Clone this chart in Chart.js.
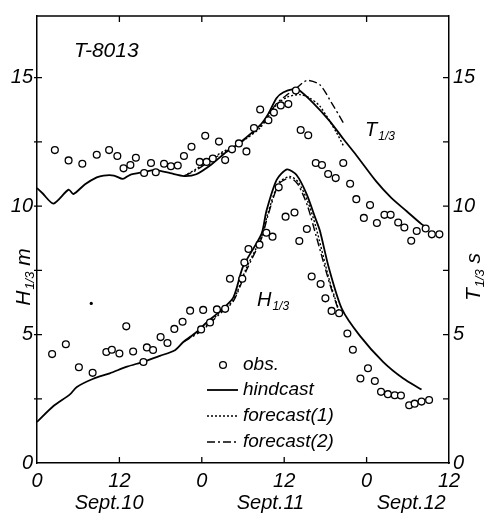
<!DOCTYPE html>
<html>
<head>
<meta charset="utf-8">
<script src="https://cdn.jsdelivr.net/npm/chart.js@4.4.1/dist/chart.umd.min.js"></script>
<style>
  html, body { margin: 0; padding: 0; background: #fff; }
  #wrap { width: 487px; height: 519px; position: relative; }
</style>
</head>
<body>
<div id="wrap"><canvas id="waveChart"></canvas></div>
<script>
// hours from Sept.10 00:00, H1/3 in m, T1/3 in s
const tObsHour = [2.6, 4.6, 6.6, 8.7, 10.5, 11.7, 12.6, 13.6, 14.4, 15.6, 16.6, 17.3, 18.5, 19.5, 20.5, 21.4, 22.5, 23.7, 24.5, 24.7, 25.6, 26.5, 27.4, 28.4, 29.4, 30.5, 31.6, 32.5, 33.7, 34.5, 35.5, 36.6, 37.7, 38.4, 39.5, 40.6, 41.5, 42.4, 43.5, 44.6, 45.6, 46.5, 47.6, 48.5, 49.5, 50.6, 51.5, 52.6, 53.5, 54.5, 55.3, 56.6, 57.5, 58.6];
const tObs = [12.18, 11.78, 11.65, 12.0, 12.18, 11.95, 11.47, 11.6, 11.88, 11.29, 11.68, 11.32, 11.65, 11.55, 11.58, 11.95, 12.31, 11.72, 12.74, 11.72, 11.85, 12.51, 11.79, 12.21, 12.44, 12.13, 13.04, 13.76, 13.34, 13.64, 13.92, 13.97, 14.5, 12.96, 12.76, 11.68, 11.6, 11.25, 11.09, 11.68, 10.87, 10.27, 9.54, 10.04, 9.34, 9.66, 9.66, 9.36, 9.17, 8.65, 9.03, 9.13, 8.9, 8.9];

const tHindHour = [0, 0.8, 2.4, 4.6, 5.3, 7.0, 8.7, 9.7, 11.2, 12.5, 13.5, 15.5, 17.2, 19.4, 21.4, 23.2, 25.4, 27.3, 29.5, 32.5, 33.7, 34.9, 35.9, 37.3, 38.1, 40.2, 42.6, 44.6, 46.5, 49.4, 51.6, 53.8, 56.0, 56.6];
const tHind = [10.7, 10.5, 10.1, 10.64, 10.47, 10.85, 11.12, 11.19, 11.19, 11.06, 11.21, 11.32, 11.4, 11.28, 11.17, 11.24, 11.62, 12.05, 12.46, 13.15, 13.6, 14.21, 14.43, 14.55, 14.53, 14.02, 13.32, 12.62, 11.98, 10.96, 10.32, 9.81, 9.3, 9.2];

const tFc1Hour = [21.4, 23.2, 25.4, 27.3, 29.5, 32.5, 34.9, 36.5, 38.3, 39.7, 41.2, 43.6, 44.6];
const tFc1 = [11.17, 11.45, 11.85, 12.15, 12.45, 13.05, 13.95, 14.25, 14.34, 14.21, 13.89, 12.87, 12.36];
const tFc2Hour = [21.4, 23.2, 25.4, 27.3, 29.5, 32.5, 34.9, 36.5, 37.6, 39.3, 41.2, 42.9, 44.6];
const tFc2 = [11.17, 11.4, 11.8, 12.1, 12.45, 13.1, 14.0, 14.35, 14.55, 14.89, 14.72, 14.02, 13.25];

const hObsHour = [2.2, 4.2, 6.1, 8.1, 10.1, 10.9, 12.0, 13.0, 14.0, 15.5, 16.0, 16.9, 18.0, 19.0, 20.0, 21.2, 22.3, 23.9, 24.2, 25.2, 26.2, 27.4, 28.1, 29.9, 30.2, 30.8, 32.4, 33.4, 34.3, 35.2, 36.2, 37.5, 38.2, 39.3, 40.0, 41.3, 42.0, 42.9, 44.0, 45.2, 46.0, 47.1, 48.2, 49.2, 50.1, 51.1, 52.1, 53.0, 54.2, 55.0, 56.0, 57.1];
const hObs = [4.24, 4.62, 3.73, 3.51, 4.32, 4.41, 4.26, 5.32, 4.34, 3.93, 4.5, 4.4, 4.9, 4.67, 5.22, 5.5, 5.93, 5.2, 5.96, 5.47, 5.98, 6.0, 7.17, 7.17, 7.8, 8.33, 8.5, 8.96, 8.81, 10.73, 9.59, 9.75, 8.64, 9.11, 7.26, 6.97, 6.41, 5.92, 5.83, 5.04, 4.41, 3.29, 3.69, 3.19, 2.77, 2.68, 2.64, 2.63, 2.25, 2.31, 2.39, 2.45];

const hHindHour = [0, 2.4, 4.8, 5.8, 8.2, 10.6, 13.1, 15.5, 17.9, 20.1, 21.3, 23.2, 24.7, 26.6, 28.6, 30.0, 32.7, 33.4, 34.9, 36.4, 37.8, 39.3, 40.5, 41.2, 42.5, 44.4, 47.0, 50.4, 53.3, 56.0];
const hHind = [1.6, 2.22, 2.67, 2.96, 3.28, 3.49, 3.75, 3.94, 4.17, 4.39, 4.71, 5.09, 5.47, 5.9, 6.45, 7.64, 8.92, 9.8, 11.02, 11.43, 11.21, 10.45, 9.56, 9.04, 7.6, 6.0, 4.96, 3.94, 3.3, 2.86];

const hFc1Hour = [21.3, 24.0, 26.6, 28.6, 30.5, 32.7, 33.6, 35.2, 36.8, 38.0, 39.4, 40.6, 42.5, 44.0];
const hFc1 = [4.71, 5.2, 5.85, 6.35, 7.6, 8.8, 9.7, 10.9, 11.15, 10.95, 10.2, 9.2, 7.2, 5.9];
const hFc2Hour = [21.3, 24.0, 26.6, 28.6, 30.5, 32.7, 33.6, 35.2, 36.8, 38.0, 39.4, 40.7, 42.6, 43.9];
const hFc2 = [4.71, 5.15, 5.8, 6.3, 7.5, 8.75, 9.6, 10.85, 11.1, 10.85, 10.0, 8.79, 7.0, 5.95];

// the little stray dot left of the H1/3 curve
const dotHour = [7.9];
const dotVal = [6.21];

const xTicks = [0, 12, 24, 36, 48, 60];
const yTicks = [0, 2.5, 5, 7.5, 10, 12.5, 15];
const dayLabels = ['Sept.10', 'Sept.11', 'Sept.12'];
const dayLabelHour = [10.5, 34, 54.5];

const FONT = '"Liberation Sans", Arial, sans-serif';

function pts(xs, ys) {
  return xs.map((x, i) => ({ x: x, y: ys[i] }));
}

function lineSet(label, xs, ys, dash, axis) {
  return {
    label: label,
    data: pts(xs, ys),
    showLine: true,
    borderColor: '#000',
    borderWidth: dash.length ? 1.4 : 1.8,
    borderDash: dash,
    pointRadius: 0,
    fill: false,
    tension: 0.25,
    yAxisID: axis,
    order: 2
  };
}

function obsSet(label, xs, ys, axis) {
  return {
    label: label,
    data: pts(xs, ys),
    showLine: false,
    pointStyle: 'circle',
    pointRadius: 3.4,
    pointBorderWidth: 1.3,
    borderColor: '#000',
    backgroundColor: '#fff',
    yAxisID: axis,
    order: 1
  };
}

const dash1 = [2, 2];
const dash2 = [8, 3, 2, 3];

// draws text with a "1/3" subscript
function subText(ctx, main, sub, tail, x, y, size) {
  ctx.font = 'italic ' + size + 'px ' + FONT;
  ctx.fillText(main, x, y);
  let w = ctx.measureText(main).width;
  ctx.font = 'italic ' + Math.round(size * 0.62) + 'px ' + FONT;
  ctx.fillText(sub, x + w + 1, y + size * 0.18);
  w += ctx.measureText(sub).width + 1;
  if (tail) {
    ctx.font = 'italic ' + size + 'px ' + FONT;
    ctx.fillText(tail, x + w, y);
    w += ctx.measureText(tail).width;
  }
  return w;
}

function subWidth(ctx, main, sub, tail, size) {
  ctx.font = 'italic ' + size + 'px ' + FONT;
  let w = ctx.measureText(main).width + (tail ? ctx.measureText(tail).width : 0);
  ctx.font = 'italic ' + Math.round(size * 0.62) + 'px ' + FONT;
  return w + ctx.measureText(sub).width + 1;
}

const decorations = {
  id: 'decorations',
  afterDraw(chart) {
    const ctx = chart.ctx;
    const a = chart.chartArea;
    const xs = chart.scales.x;
    const ys = chart.scales.y;
    ctx.save();
    ctx.strokeStyle = '#000';
    ctx.fillStyle = '#000';
    ctx.lineWidth = 1.5;

    // top border
    ctx.beginPath();
    ctx.moveTo(a.left, a.top);
    ctx.lineTo(a.right, a.top);
    ctx.stroke();

    // inward ticks
    ctx.lineWidth = 1.3;
    ctx.beginPath();
    xTicks.slice(1, -1).forEach(v => {
      const px = xs.getPixelForValue(v);
      ctx.moveTo(px, a.bottom); ctx.lineTo(px, a.bottom - 6);
      ctx.moveTo(px, a.top); ctx.lineTo(px, a.top + 6);
    });
    yTicks.slice(1).forEach(v => {
      const py = ys.getPixelForValue(v);
      ctx.moveTo(a.left - 3, py); ctx.lineTo(a.left + 5, py);
      ctx.moveTo(a.right, py); ctx.lineTo(a.right - 6, py);
    });
    ctx.stroke();

    // day labels under the hour ticks
    ctx.font = 'italic 20px ' + FONT;
    ctx.textAlign = 'center';
    ctx.textBaseline = 'middle';
    dayLabels.forEach((t, i) => {
      ctx.fillText(t, xs.getPixelForValue(dayLabelHour[i]), 503);
    });

    // axis titles
    ctx.textAlign = 'left';
    ctx.textBaseline = 'alphabetic';
    let w = subWidth(ctx, 'H', '1/3', ' m', 21);
    ctx.save();
    ctx.translate(30, 277);
    ctx.rotate(-Math.PI / 2);
    subText(ctx, 'H', '1/3', ' m', -w / 2, 0, 21);
    ctx.restore();

    w = subWidth(ctx, 'T', '1/3', ' s', 21);
    ctx.save();
    ctx.translate(480, 277);
    ctx.rotate(-Math.PI / 2);
    subText(ctx, 'T', '1/3', ' s', -w / 2, 0, 21);
    ctx.restore();

    // annotations
    ctx.font = 'italic 21px ' + FONT;
    ctx.fillText('T-8013', 74, 57);
    subText(ctx, 'T', '1/3', '', 365, 136, 20);
    subText(ctx, 'H', '1/3', '', 257, 306, 20);

    // legend
    const rows = [365, 390, 416, 442];
    const items = chart.data.datasets.filter(d => d.legendRow !== undefined);
    items.forEach(d => {
      const y = rows[d.legendRow];
      if (d.showLine) {
        ctx.save();
        ctx.lineWidth = d.borderWidth;
        ctx.setLineDash(d.borderDash);
        ctx.beginPath();
        ctx.moveTo(207, y);
        ctx.lineTo(238, y);
        ctx.stroke();
        ctx.restore();
      } else {
        ctx.lineWidth = 1.3;
        ctx.beginPath();
        ctx.arc(223, y, 3.4, 0, Math.PI * 2);
        ctx.stroke();
      }
      ctx.font = 'italic 19px ' + FONT;
      ctx.textBaseline = 'middle';
      ctx.fillText(d.label, 243, y);
    });
    ctx.restore();
  }
};

const tObsSet = obsSet('obs.', tObsHour, tObs, 'yR');
tObsSet.legendRow = 0;
const tHindSet = lineSet('hindcast', tHindHour, tHind, [], 'yR');
tHindSet.legendRow = 1;
const tFc1Set = lineSet('forecast(1)', tFc1Hour, tFc1, dash1, 'yR');
tFc1Set.legendRow = 2;
const tFc2Set = lineSet('forecast(2)', tFc2Hour, tFc2, dash2, 'yR');
tFc2Set.legendRow = 3;

const ctx = document.getElementById('waveChart').getContext('2d');
const waveChart = new Chart(ctx, {
  type: 'scatter',
  data: {
    datasets: [
      tObsSet,
      obsSet('obs. H', hObsHour, hObs, 'y'),
      tHindSet,
      lineSet('hindcast H', hHindHour, hHind, [], 'y'),
      tFc1Set,
      lineSet('forecast(1) H', hFc1Hour, hFc1, dash1, 'y'),
      tFc2Set,
      lineSet('forecast(2) H', hFc2Hour, hFc2, dash2, 'y'),
      {
        label: 'dot',
        data: pts(dotHour, dotVal),
        pointRadius: 1.6,
        borderWidth: 0,
        backgroundColor: '#000',
        yAxisID: 'y'
      }
    ]
  },
  options: {
    responsive: true,
    maintainAspectRatio: false,
    animation: false,
    layout: { padding: { top: 9, left: 0, right: 0, bottom: 0 } },
    plugins: {
      legend: { display: false },
      tooltip: { enabled: false }
    },
    scales: {
      x: {
        type: 'linear',
        min: 0,
        max: 60,
        afterBuildTicks: s => { s.ticks = xTicks.map(v => ({ value: v })); },
        afterFit: s => { s.height = 56; },
        grid: { display: false, drawTicks: false },
        border: { display: true, color: '#000', width: 1.5 },
        ticks: {
          color: '#000',
          padding: 6,
          maxRotation: 0,
          font: { family: FONT, size: 20, style: 'italic' },
          callback: v => String(v % 24)
        }
      },
      y: {
        position: 'left',
        min: 0,
        max: 17.4,
        afterBuildTicks: s => { s.ticks = yTicks.map(v => ({ value: v })); },
        afterFit: s => { s.width = 37; },
        grid: { display: false, drawTicks: false },
        border: { display: true, color: '#000', width: 1.5 },
        ticks: {
          color: '#000',
          padding: 4,
          font: { family: FONT, size: 20, style: 'italic' },
          callback: v => (v % 5 === 0 ? String(v) : '')
        }
      },
      yR: {
        position: 'right',
        min: 0,
        max: 17.4,
        afterBuildTicks: s => { s.ticks = yTicks.map(v => ({ value: v })); },
        afterFit: s => { s.width = 38; },
        grid: { display: false, drawTicks: false },
        border: { display: true, color: '#000', width: 1.5 },
        ticks: {
          color: '#000',
          padding: 4,
          font: { family: FONT, size: 20, style: 'italic' },
          callback: v => (v % 5 === 0 ? String(v) : '')
        }
      }
    }
  },
  plugins: [decorations]
});
</script>
</body>
</html>
